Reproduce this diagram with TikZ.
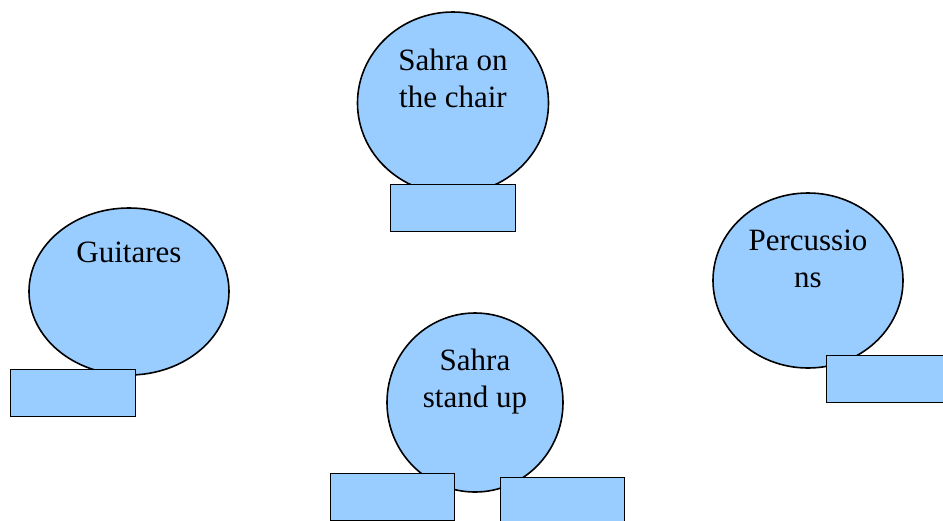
\documentclass[tikz,border=0pt]{standalone}
\usepackage{fontspec}
\setmainfont{Liberation Serif}
\usetikzlibrary{shapes.geometric}
\definecolor{boxblue}{HTML}{99CCFF}
\begin{document}
\begin{tikzpicture}[x=1pt,y=-1pt,
  blob/.style={ellipse,draw=black,fill=boxblue,line width=1.6pt,inner sep=0pt},
  seat/.style={rectangle,draw=black,fill=boxblue,line width=1.4pt,inner sep=0pt,
    minimum width=125pt,minimum height=47pt,anchor=north west},
  lbl/.style={align=center,anchor=base,inner sep=0pt,
    font=\fontsize{31}{37}\selectfont}]
\useasboundingbox (0,0) rectangle (943,520);
%--------------------------------------------------- sahra, chair
\node[blob,minimum width=191pt,minimum height=182pt] (chair) at (453,103) {};
\node[lbl] (chairtxt) at (453,107) {Sahra on\\the chair};
\node[seat] (chairseat) at (390,184) {};
%--------------------------------------------------- guitares
\node[blob,minimum width=200pt,minimum height=167pt] (guit) at (129,291.5) {};
\node[lbl] (guittxt) at (129,262) {Guitares};
\node[seat] (guitseat) at (10,369) {};
%--------------------------------------------------- percussions
\node[blob,minimum width=190pt,minimum height=175pt] (perc) at (808,280.5) {};
\node[lbl] (perctxt) at (808,287) {Percussio\\ns};
\node[seat] (percseat) at (826,355) {};
%--------------------------------------------------- sahra, standing
\node[blob,minimum width=176pt,minimum height=179pt] (stand) at (475,402.5) {};
\node[lbl] (standtxt) at (475,407) {Sahra\\stand up};
\node[seat,minimum width=124pt] (standleft) at (330,473) {};
\node[seat,minimum width=124pt] (standright) at (500,477) {};
\end{tikzpicture}
\end{document}
